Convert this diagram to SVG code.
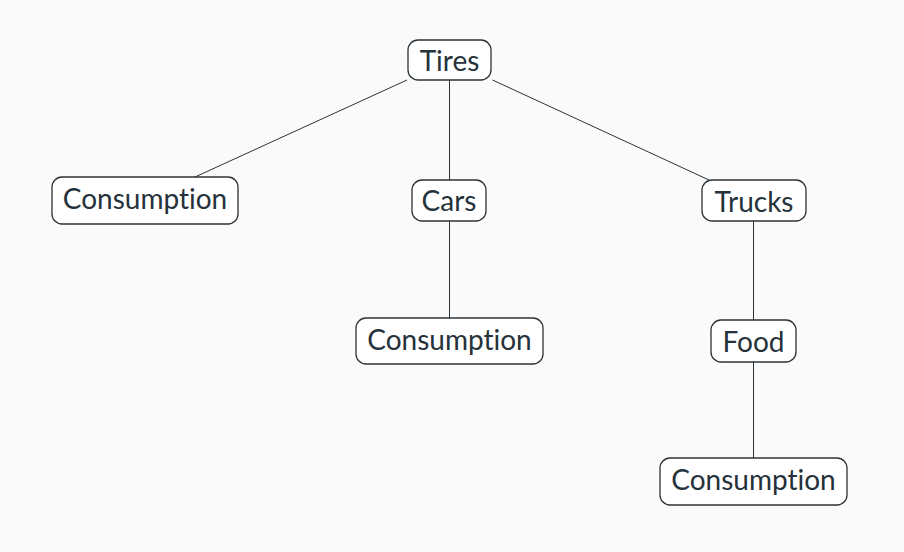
<svg xmlns="http://www.w3.org/2000/svg" width="904" height="552" viewBox="0 0 904 552">
<style>
.box{fill:#ffffff;stroke:#2b3338;stroke-width:1.3}
.lbl{font-family:Lato,"Open Sans","DejaVu Sans",sans-serif;font-size:28px;fill:#26323a;text-anchor:middle;dominant-baseline:central;font-variant-ligatures:none}
.edge{stroke:#2b3338;stroke-width:1;fill:none}
</style>
<rect x="0" y="0" width="904" height="552" fill="#fafafa"/>
<g id="connectors">
<line class="edge" x1="407" y1="80" x2="195" y2="177"/>
<line class="edge" x1="449.5" y1="80" x2="449.5" y2="180"/>
<line class="edge" x1="492.5" y1="80" x2="709" y2="180"/>
<line class="edge" x1="449.5" y1="221" x2="449.5" y2="318"/>
<line class="edge" x1="753.5" y1="221" x2="753.5" y2="320"/>
<line class="edge" x1="753.5" y1="362" x2="753.5" y2="458"/>
</g>
<g id="tires"><rect class="box" x="408" y="40" width="83" height="40" rx="10"/><text class="lbl" x="449.5" y="60">Tires</text></g>
<g id="consumption1"><rect class="box" x="52" y="177" width="186" height="47" rx="10"/><text class="lbl" x="145" y="198">Consumption</text></g>
<g id="cars"><rect class="box" x="412" y="180" width="74" height="41" rx="10"/><text class="lbl" x="449" y="200">Cars</text></g>
<g id="trucks"><rect class="box" x="702" y="180" width="104" height="41" rx="10"/><text class="lbl" x="754" y="201">Trucks</text></g>
<g id="consumption2"><rect class="box" x="356" y="318" width="187" height="46" rx="10"/><text class="lbl" x="449.5" y="339">Consumption</text></g>
<g id="food"><rect class="box" x="711" y="320" width="85" height="42" rx="10"/><text class="lbl" x="753.5" y="341">Food</text></g>
<g id="consumption3"><rect class="box" x="660" y="458" width="187" height="47" rx="10"/><text class="lbl" x="753.5" y="479">Consumption</text></g>
</svg>
